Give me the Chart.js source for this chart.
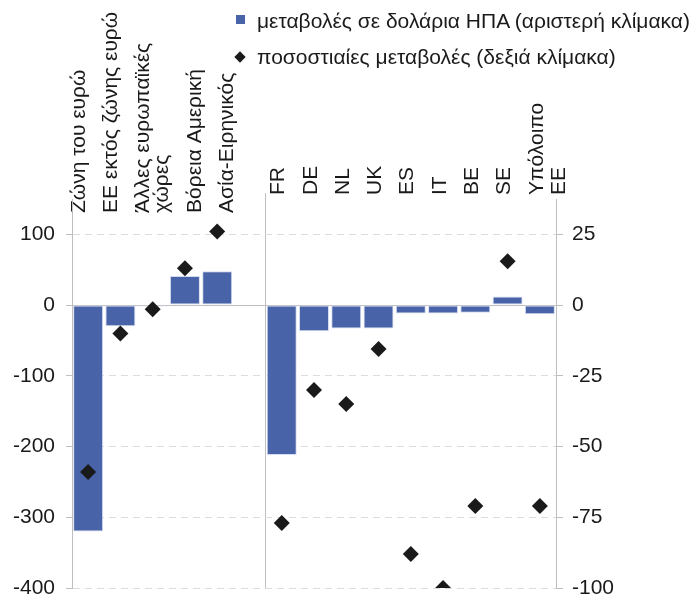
<!DOCTYPE html>
<html>
<head>
<meta charset="utf-8">
<script src="https://cdn.jsdelivr.net/npm/chart.js@4/dist/chart.umd.min.js"></script>
<style>
  html, body { margin: 0; padding: 0; background: #fff; }
  #wrap { position: relative; width: 694px; height: 599px; }
  #legend {
    position: absolute; left: 233px; top: 3px;
    font-family: 'Liberation Sans', Arial, sans-serif; font-size: 21px; color: #1a1a1a;
  }
  .item { display: flex; align-items: center; height: 36px; white-space: nowrap; }
  .sw { width: 14px; margin-right: 10px; display: flex; justify-content: center; }
  .sq { width: 9px; height: 9px; background: #4863a8; margin-top: -4px; }
  .dm { width: 8px; height: 8px; background: #1a1a1a; transform: rotate(45deg); }
</style>
</head>
<body>
<div id="wrap">
  <canvas id="c" width="694" height="599"></canvas>
  <div id="legend"></div>
</div>
<script>
// Categories: regions, an empty spacer slot, then individual EU countries
const categories = [
  'Ζώνη του ευρώ', 'ΕΕ εκτός ζώνης ευρώ', ['Άλλες ευρωπαϊκές', 'χώρες'],
  'Βόρεια Αμερική', 'Ασία-Ειρηνικός', '',
  'FR', 'DE', 'NL', 'UK', 'ES', 'IT', 'BE', 'SE', ['Υπόλοιπο', 'ΕΕ']
];
// Changes in US dollars (left scale)
const usdChange = [-320, -30, -2, 41, 48, null, -212, -37, -33, -33, -12, -12, -11, 12, -13];
// Percentage changes (right scale)
const pctChange = [-59, -10, -1.5, 13, 26, null, -77, -30, -35, -15.5, -88, -100, -71, 15.5, -71];

const leftTicks = [-400, -300, -200, -100, 0, 100];
const rightTicks = [-100, -75, -50, -25, 0, 25];

const seriesNames = [
  'μεταβολές σε δολάρια ΗΠΑ (αριστερή κλίμακα)',
  'ποσοστιαίες μεταβολές (δεξιά κλίμακα)'
];

const FONT = "'Liberation Sans', Arial, sans-serif";
const TEXT = '#1a1a1a';
const AXIS = '#bfbfbf';
const GRID = '#dcdcdc';
const FIRST_COUNTRY = 6;   // first index of the country group

const data = {
  labels: categories,
  datasets: [
    {
      type: 'line',
      label: seriesNames[1],
      data: pctChange,
      yAxisID: 'yR',
      showLine: false,
      pointStyle: 'rectRot',
      pointRadius: 8,
      pointHoverRadius: 8,
      backgroundColor: '#1a1a1a',
      borderColor: '#1a1a1a',
      borderWidth: 0,
      order: 0
    },
    {
      type: 'bar',
      label: seriesNames[0],
      data: usdChange,
      yAxisID: 'yL',
      backgroundColor: '#4863a8',
      borderColor: '#d4dcef',
      borderWidth: 1,
      borderSkipped: false,
      categoryPercentage: 1,
      barPercentage: 0.93,
      order: 1
    }
  ]
};

const tickFont = { family: FONT, size: 21, lineHeight: 1.05 };
const regionFont = { family: FONT, size: 21, lineHeight: 0.905 };

// Country labels: two-line slots so single and two-line names share one baseline
function twoLines(label) {
  return Array.isArray(label) ? label : [label, ''];
}

// Region labels: once a two-line name has appeared, the following names move
// down one line so the rotated texts keep clear of each other
function regionLines(label, i) {
  if (Array.isArray(label)) return label;
  const afterWrapped = categories.slice(0, i).some(Array.isArray);
  return afterWrapped ? ['', label] : [label, ''];
}

const chart = new Chart(document.getElementById('c'), {
  data,
  options: {
    responsive: false,
    animation: false,
    layout: { padding: { left: 0, right: 0, top: 0, bottom: 11 } },
    plugins: { legend: { display: false }, tooltip: { enabled: false } },
    scales: {
      // country labels + the group separator (outer top box)
      x: {
        type: 'category',
        position: 'top',
        offset: true,
        weight: 1,
        border: { display: false },
        grid: {
          offset: true,
          drawOnChartArea: true,
          color: ctx => ctx.index === FIRST_COUNTRY ? AXIS : 'rgba(0,0,0,0)',
          tickColor: ctx => ctx.index === FIRST_COUNTRY ? AXIS : 'rgba(0,0,0,0)',
          tickLength: 6,
          lineWidth: 1
        },
        ticks: {
          font: tickFont, color: TEXT,
          minRotation: 90, maxRotation: 90,
          autoSkip: false, padding: -2, labelOffset: 41,
          callback: function (v, i) {
            return i >= FIRST_COUNTRY ? twoLines(this.getLabelForValue(v)) : '';
          }
        },
        afterFit: s => { s.height = 199; }
      },
      // region labels, anchored slightly inside the plot (inner top box)
      x2: {
        type: 'category',
        position: 'top',
        offset: true,
        weight: 0,
        border: { display: false },
        grid: { display: false },
        ticks: {
          font: regionFont, color: TEXT,
          mirror: true,
          minRotation: 90, maxRotation: 90,
          autoSkip: false, padding: 14, labelOffset: -28,
          callback: function (v, i) {
            return i < FIRST_COUNTRY ? regionLines(this.getLabelForValue(v), i) : '';
          }
        },
        afterFit: s => { s.height = 0; }
      },
      yL: {
        type: 'linear',
        position: 'left',
        min: -400, max: 150,
        afterBuildTicks: s => { s.ticks = leftTicks.map(v => ({ value: v })); },
        afterFit: s => { s.width = 72; s.paddingTop = 0; s.paddingBottom = 0; },
        border: {
          display: true, color: AXIS, width: 1,
          dash: ctx => (ctx.tick && ctx.tick.value !== 0) ? [7, 5] : []
        },
        grid: {
          color: ctx => (ctx.tick && ctx.tick.value === 0) ? AXIS : GRID,
          tickColor: AXIS,
          tickLength: 6,
          lineWidth: 1
        },
        ticks: { font: tickFont, color: TEXT, padding: 11 }
      },
      yR: {
        type: 'linear',
        position: 'right',
        min: -100, max: 37.5,
        afterBuildTicks: s => { s.ticks = rightTicks.map(v => ({ value: v })); },
        afterFit: s => { s.width = 138; s.paddingTop = 0; s.paddingBottom = 0; },
        border: { display: true, color: AXIS, width: 1 },
        grid: { drawOnChartArea: false, tickColor: AXIS, tickLength: 7 },
        ticks: { font: tickFont, color: TEXT, padding: 9 }
      }
    }
  }
});

// Legend built from the chart's datasets
const legend = document.getElementById('legend');
[chart.data.datasets[1], chart.data.datasets[0]].forEach(ds => {
  const row = document.createElement('div');
  row.className = 'item';
  const sw = document.createElement('div');
  sw.className = 'sw';
  const mark = document.createElement('div');
  mark.className = ds.type === 'bar' ? 'sq' : 'dm';
  sw.appendChild(mark);
  const txt = document.createElement('span');
  txt.textContent = ds.label;
  row.appendChild(sw);
  row.appendChild(txt);
  legend.appendChild(row);
});
</script>
</body>
</html>
